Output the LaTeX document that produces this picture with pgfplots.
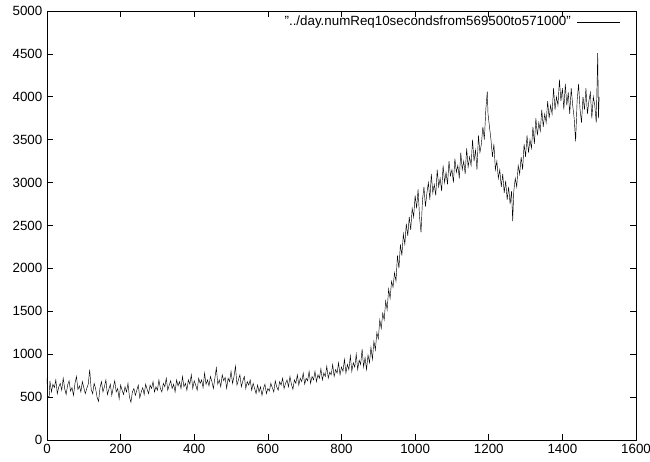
\documentclass[border=0pt]{standalone}
\usepackage{pgfplots}
\pgfplotsset{compat=1.18}
\usepackage{fontspec}
\setmainfont{Liberation Sans}
\begin{document}
\fontsize{13.4}{15}\selectfont
\begin{tikzpicture}
\begin{axis}[
  scale only axis,
  width=589bp, height=429bp,
  xmin=0, xmax=1600, ymin=0, ymax=5000,
  xtick={0,200,...,1600}, ytick={0,500,...,5000},
  tick align=inside, tick pos=both,
  major tick length=6bp,
  minor tick num=0,
  axis line style={line width=0.6pt},
  every tick/.style={line width=0.6pt, black},
  /pgf/number format/assume math mode=true,
  /pgf/number format/set thousands separator={},
  tick label style={font=\fontsize{13.4}{15}\selectfont},
  scaled ticks=false,
  legend plot pos=right,
  legend cell align=right,
  legend style={draw=none, fill=none, at={(1,1)}, anchor=north east, xshift=-13bp, yshift=-1bp, column sep=4bp, font=\fontsize{13.4}{15}\selectfont},
  legend image code/.code={\draw[#1] (0cm,0cm) -- (1.5cm,0cm);},
]
\addplot[black, line width=0.45pt] coordinates {
(0,720)(2,505)(6,505)(8,690)(12,560)(16,650)(20,610)(24,700)(28,540)(32,620)
(36,660)(40,580)(44,720)(48,600)(52,530)(56,640)(60,690)(64,570)(68,610)(72,520)
(76,660)(80,740)(84,590)(88,630)(92,560)(96,680)(100,610)(104,540)(108,600)(112,650)
(116,820)(120,590)(124,540)(128,660)(132,600)(136,500)(140,450)(144,610)(148,680)(152,560)
(156,620)(160,700)(164,530)(168,590)(172,650)(176,520)(180,610)(184,690)(188,560)(192,600)
(196,480)(200,640)(204,580)(208,530)(212,620)(216,560)(220,660)(224,500)(228,440)(232,560)
(236,600)(240,520)(244,580)(248,640)(252,490)(256,560)(260,610)(264,530)(268,650)(272,590)
(276,540)(280,640)(284,600)(288,680)(292,560)(296,620)(300,580)(304,700)(308,600)(312,560)
(316,660)(320,620)(324,720)(328,580)(332,640)(336,690)(340,600)(344,650)(348,560)(352,700)
(356,630)(360,680)(364,600)(368,740)(372,620)(376,660)(380,580)(384,700)(388,650)(392,760)
(396,600)(400,690)(404,640)(408,580)(412,720)(416,660)(420,700)(424,610)(428,780)(432,650)
(436,700)(440,630)(444,740)(448,680)(452,600)(456,720)(460,840)(464,650)(468,700)(472,620)
(476,760)(480,690)(484,730)(488,600)(492,720)(496,680)(500,800)(504,660)(508,740)(512,860)
(516,640)(520,700)(524,760)(528,620)(532,690)(536,740)(540,600)(544,680)(548,640)(552,700)
(556,580)(560,660)(564,600)(568,540)(572,640)(576,560)(580,620)(584,520)(588,600)(592,650)
(596,540)(600,600)(604,570)(608,660)(612,610)(616,560)(620,690)(624,620)(628,580)(632,680)
(636,640)(640,720)(644,600)(648,660)(652,700)(656,620)(660,740)(664,650)(668,590)(672,700)
(676,660)(680,760)(684,640)(688,720)(692,680)(696,780)(700,650)(704,720)(708,690)(712,800)
(716,660)(720,740)(724,700)(728,800)(732,680)(736,760)(740,720)(744,830)(748,700)(752,780)
(756,740)(760,860)(764,720)(768,790)(772,760)(776,880)(780,740)(784,820)(788,780)(792,900)
(796,760)(800,850)(804,800)(808,940)(812,780)(816,880)(820,820)(824,980)(828,800)(832,900)
(836,850)(840,1000)(844,820)(848,930)(852,880)(856,1060)(860,850)(864,960)(868,820)(872,990)
(876,900)(880,1080)(884,940)(888,1150)(892,1050)(896,1250)(900,1180)(904,1400)(908,1300)(912,1480)
(916,1400)(920,1620)(924,1520)(928,1760)(932,1650)(936,1850)(940,1780)(944,1950)(948,1850)(952,2150)
(956,2000)(960,2280)(964,2150)(968,2400)(972,2280)(976,2520)(980,2380)(984,2600)(988,2450)(992,2700)
(996,2600)(1000,2850)(1004,2700)(1008,2920)(1012,2600)(1016,2420)(1020,2800)(1024,2950)(1028,2720)(1032,2880)
(1036,3000)(1040,2800)(1044,3100)(1048,2880)(1052,2980)(1056,2850)(1060,3150)(1064,2950)(1068,3050)(1072,2900)
(1076,3200)(1080,3000)(1084,3120)(1088,2980)(1092,3250)(1096,3080)(1100,3150)(1104,3000)(1108,3280)(1112,3120)
(1116,3200)(1120,3050)(1124,3350)(1128,3150)(1132,3250)(1136,3100)(1140,3400)(1144,3180)(1148,3300)(1152,3200)
(1156,3500)(1160,3250)(1164,3380)(1168,3150)(1172,3550)(1176,3350)(1180,3450)(1184,3650)(1188,3500)(1192,3850)
(1196,4060)(1198,3800)(1202,3650)(1206,3500)(1210,3300)(1214,3450)(1218,3150)(1222,3250)(1226,3050)(1230,3150)
(1234,2950)(1238,3100)(1242,2880)(1246,3020)(1250,2800)(1254,2950)(1258,2750)(1262,2900)(1265,2550)(1268,2900)
(1272,3050)(1276,2950)(1280,3200)(1284,3100)(1288,3300)(1292,3150)(1296,3450)(1300,3300)(1304,3550)(1308,3350)
(1312,3500)(1316,3400)(1320,3650)(1324,3450)(1328,3750)(1332,3550)(1336,3700)(1340,3600)(1344,3850)(1348,3650)
(1352,3800)(1356,3700)(1360,3950)(1364,3750)(1368,3900)(1372,3800)(1376,4100)(1380,3850)(1384,4000)(1388,3900)
(1392,4200)(1396,3950)(1400,4100)(1404,3850)(1408,4150)(1412,3900)(1416,4050)(1420,3800)(1424,4100)(1428,3900)
(1432,3750)(1436,3480)(1440,3950)(1444,4150)(1448,3850)(1452,3700)(1456,4000)(1460,3850)(1464,4100)(1468,3800)
(1472,3950)(1476,4050)(1480,3750)(1484,4000)(1488,3900)(1492,3700)(1496,4510)(1498,3750)(1500,4000)
};
\addlegendentry{"../day.numReq10secondsfrom569500to571000"}
\coordinate (bl) at (rel axis cs:0,0);
\coordinate (tr) at (rel axis cs:1,1);
\end{axis}
\pgfresetboundingbox
\path ([xshift=-47bp,yshift=-22bp]bl) rectangle ([xshift=14bp,yshift=11bp]tr);
\end{tikzpicture}
\end{document}
